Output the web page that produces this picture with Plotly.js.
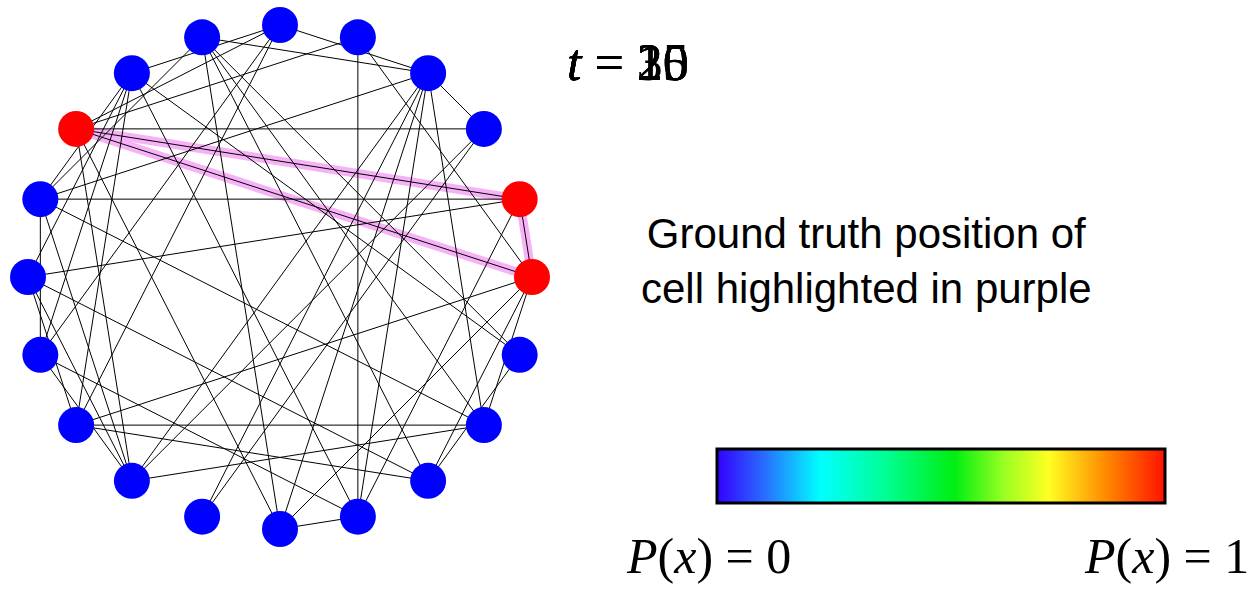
<!DOCTYPE html>
<html>
<head>
<meta charset="utf-8">
<script src="https://cdn.plot.ly/plotly-3.0.1.min.js"></script>
<style>html,body{margin:0;padding:0;background:#fff;}#chart{width:1253px;height:589px;}</style>
</head>
<body>
<div id="chart"></div>
<script>
// ---- data ----
const nodeCount = 20;                       // nodes on the ring, index 0 at top, clockwise
const nodeProb = [0,0,0,0,1,1,0,0,0,0,0,0,0,0,0,0,0,1,0,0];   // P(x) per node
const edgeFrom = [17,16,13,1,17,17,4,16,0,0,19,19,19,19,19,19,0,17,16,2,2,2,2,2,2,1,15,15,15,15,15,14,14,13,13,12,10,11,9,10,18,18,18,18,17,17,16,16,0,9,3,0,8,8,7];
const edgeTo   = [3,4,7,9,4,5,5,14,18,2,2,16,10,8,7,6,17,1,2,9,10,11,12,7,3,5,18,4,8,13,12,9,12,8,5,7,9,3,18,5,16,14,13,6,12,10,12,7,14,4,12,13,6,5,5];
const truthFrom = [17,17,4];                // ground-truth cell (purple)
const truthTo   = [4,5,5];
const tLabels = ['10','15','20','25','30'];
const labelText = 'Ground truth position of<br>cell highlighted in purple';
const scaleMin = 0, scaleMax = 1;

// ---- layout of nodes on a ring ----
const nx = [], ny = [];
for (let k = 0; k < nodeCount; k++) {
  const a = 2 * Math.PI * k / nodeCount;
  nx.push(Math.sin(a)); ny.push(Math.cos(a));
}
function segs(from, to) {
  const x = [], y = [];
  for (let i = 0; i < from.length; i++) {
    x.push(nx[from[i]], nx[to[i]], null);
    y.push(ny[from[i]], ny[to[i]], null);
  }
  return {x, y};
}
const e = segs(edgeFrom, edgeTo);
const t = segs(truthFrom, truthTo);

const jet = [[0,'#3300ff'],[0.1,'#2a66ff'],[0.23,'#00ffff'],[0.37,'#00ff99'],[0.53,'#00ee11'],[0.64,'#99ff22'],[0.74,'#ffff22'],[0.87,'#ff8800'],[1,'#ff1100']];

const traces = [
  {type:'scatter', mode:'lines', x:t.x, y:t.y, line:{color:'rgb(247,178,247)', width:9}, hoverinfo:'skip', showlegend:false},
  {type:'scatter', mode:'lines', x:e.x, y:e.y, line:{color:'#000', width:1}, hoverinfo:'skip', showlegend:false},
  {type:'scatter', mode:'markers', x:nx, y:ny,
   marker:{size:36, color:nodeProb, cmin:scaleMin, cmax:scaleMax,
           colorscale:[[0,'#0000ff'],[1,'#ff0000']], showscale:false, line:{width:0}},
   hoverinfo:'skip', showlegend:false},
  {type:'scatter', mode:'markers', x:[0,0], y:[0,0],
   marker:{size:1, opacity:0, color:[scaleMin, scaleMax], cmin:scaleMin, cmax:scaleMax, colorscale:jet, showscale:true,
     colorbar:{orientation:'h', x:717/1253, xanchor:'left', y:1-449/589, yanchor:'top',
       len:448/1253, lenmode:'fraction', thickness:54, thicknessmode:'pixels',
       outlinewidth:3, outlinecolor:'#000', showticklabels:false, ticks:'', xpad:0, ypad:0, borderwidth:0}},
   hoverinfo:'skip', showlegend:false}
];

const ann = [];
tLabels.forEach(v => ann.push({xref:'paper', yref:'paper', x:565/1253, y:1-62/589, xanchor:'left', yanchor:'middle',
  text:'<i>t</i> = ' + v, showarrow:false, font:{family:'Liberation Serif', size:52, color:'#000'}}));
ann.push({xref:'paper', yref:'paper', x:866/1253, y:1-261/589, xanchor:'center', yanchor:'middle',
  text:labelText, showarrow:false, font:{family:'Liberation Sans, Arial', size:42, color:'#000'}});
ann.push({xref:'paper', yref:'paper', x:624/1253, y:1-556/589, xanchor:'left', yanchor:'middle',
  text:'<i>P</i>(<i>x</i>) = ' + scaleMin, showarrow:false, font:{family:'Liberation Serif', size:50, color:'#000'}});
ann.push({xref:'paper', yref:'paper', x:1251/1253, y:1-556/589, xanchor:'right', yanchor:'middle',
  text:'<i>P</i>(<i>x</i>) = ' + scaleMax, showarrow:false, font:{family:'Liberation Serif', size:50, color:'#000'}});

const layout = {
  width:1253, height:589, margin:{l:0,r:0,t:0,b:0}, paper_bgcolor:'#fff', plot_bgcolor:'#fff',
  xaxis:{range:[-280/252, 973/252], visible:false, fixedrange:true},
  yaxis:{range:[-312/252, 277/252], visible:false, fixedrange:true},
  annotations:ann, showlegend:false
};
Plotly.newPlot('chart', traces, layout, {staticPlot:true, displayModeBar:false});
</script>
</body>
</html>
